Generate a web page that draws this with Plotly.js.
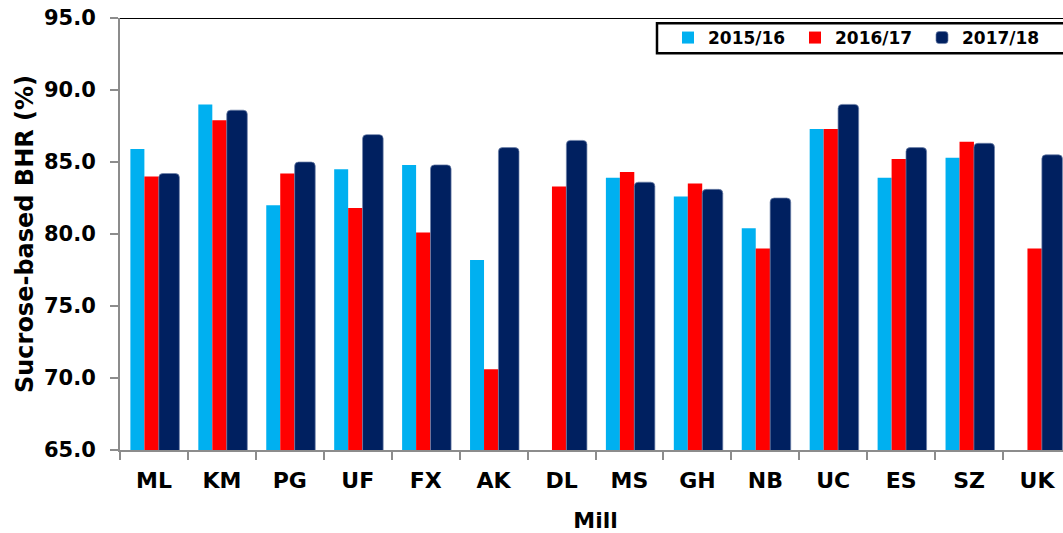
<!DOCTYPE html>
<html>
<head>
<meta charset="utf-8">
<script src="https://cdn.plot.ly/plotly-3.0.1.min.js"></script>
<style>
html,body{margin:0;padding:0;overflow:hidden;background:#fff;width:1063px;height:533px;}
#chart{width:1200px;height:533px;}
</style>
</head>
<body>
<div id="chart"></div>
<script>
const mills = ["ML","KM","PG","UF","FX","AK","DL","MS","GH","NB","UC","ES","SZ","UK"];
const seriesNames = ["2015/16","2016/17","2017/18"];
const bhr1516 = [85.9, 89.0, 82.0, 84.5, 84.8, 78.2, null, 83.9, 82.6, 80.4, 87.3, 83.9, 85.3, null];
const bhr1617 = [84.0, 87.9, 84.2, 81.8, 80.1, 70.6, 83.3, 84.3, 83.5, 79.0, 87.3, 85.2, 86.4, 79.0];
const bhr1718 = [84.2, 88.6, 85.0, 86.9, 84.8, 86.0, 86.5, 83.6, 83.1, 82.5, 89.0, 86.0, 86.3, 85.5];
const yTicks = [65, 70, 75, 80, 85, 90, 95];

const FONT = "DejaVu Sans";
const W = 1200, PL = 120, PR = 1071;   // plot area spans 120..1071 px (clipped by the 1063 px window)
const PW = PR - PL, PT = 18, PB = 450, PH = PB - PT;

const traces = [
  {type:"bar", name:seriesNames[0], x:mills, y:bhr1516,
   offset:-0.347, width:0.206, marker:{color:"#00B0F0"}},
  {type:"bar", name:seriesNames[1], x:mills, y:bhr1617,
   offset:-0.141, width:0.212, marker:{color:"#FF0000"}},
  {type:"bar", name:seriesNames[2], x:mills, y:bhr1718,
   offset:0.071, width:0.303,
   marker:{color:"#002060", cornerradius:4, line:{color:"rgba(110,130,170,0.7)", width:1}}}
];

const layout = {
  width:W, height:533,
  margin:{l:PL, r:W-PR, t:PT, b:533-PB, pad:0},
  paper_bgcolor:"#fff", plot_bgcolor:"#fff",
  barmode:"overlay",
  showlegend:true,
  font:{family:FONT, color:"#000"},
  xaxis:{
    type:"category", range:[-0.5, 13.5], fixedrange:true,
    tickson:"boundaries", ticks:"outside", ticklen:8, tickwidth:2, tickcolor:"#8c8c8c",
    showline:true, linecolor:"#8c8c8c", linewidth:2, showgrid:false,
    tickfont:{family:FONT, size:22, color:"#000", weight:"bold"},
    ticklabelstandoff:10,
    title:{text:"Mill", font:{family:FONT, size:22, color:"#000", weight:"bold"}, standoff:22},
    automargin:false
  },
  yaxis:{
    range:[65, 95], tickvals:yTicks, tickformat:".1f", fixedrange:true,
    ticks:"outside", ticklen:8, tickwidth:2, tickcolor:"#8c8c8c",
    showline:true, linecolor:"#8c8c8c", linewidth:2, showgrid:false, zeroline:false,
    tickfont:{family:FONT, size:21, color:"#000", weight:"bold"},
    ticklabelstandoff:10,
    title:{text:"Sucrose-based BHR (%)", font:{family:FONT, size:24, color:"#000", weight:"bold"}, standoff:4},
    automargin:false
  },
  legend:{
    orientation:"h", x:(668-PL)/PW, xanchor:"left", y:1-(20-PT)/PH, yanchor:"top",
    bgcolor:"rgba(0,0,0,0)", borderwidth:0,
    font:{family:FONT, size:17, color:"#000", weight:"bold"},
    entrywidth:82, entrywidthmode:"pixels", traceorder:"normal"
  },
  shapes:[
    {type:"line", xref:"paper", yref:"y", x0:0, x1:1, y0:95, y1:95, line:{color:"#000", width:2}},
    {type:"rect", xref:"paper", yref:"paper", x0:(657-PL)/PW, x1:1.05,
     y0:1-(53.3-PT)/PH, y1:1-(23.3-PT)/PH, line:{color:"#000", width:2.5}, fillcolor:"rgba(0,0,0,0)"}
  ]
};

Plotly.newPlot("chart", traces, layout, {displayModeBar:false, staticPlot:true});
</script>
</body>
</html>
